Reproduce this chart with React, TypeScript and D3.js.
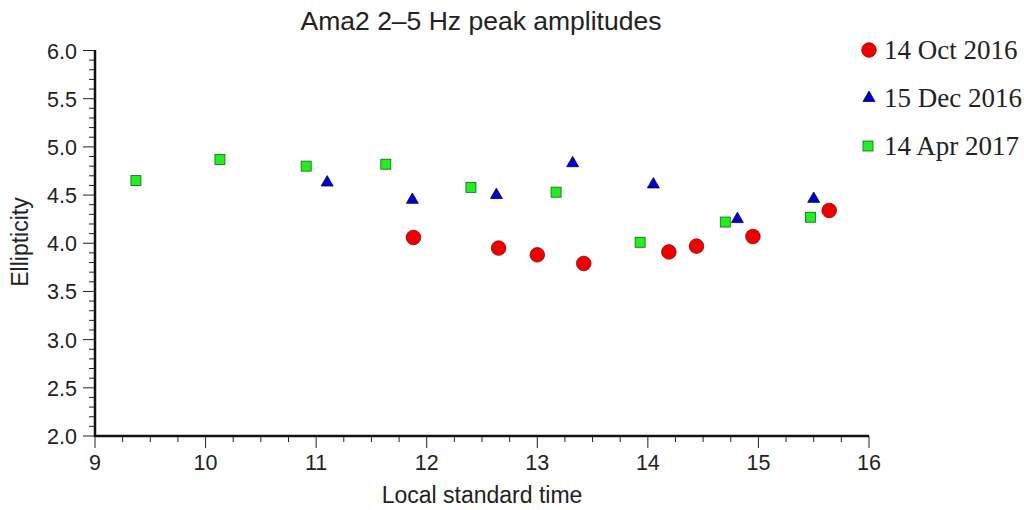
import React from "react";
import * as d3 from "d3";

const seriesNames = ["14 Oct 2016", "15 Dec 2016", "14 Apr 2017"];

const octX = [11.88, 12.65, 13.0, 13.42, 14.19, 14.44, 14.95, 15.64];
const octY = [4.06, 3.95, 3.88, 3.79, 3.91, 3.97, 4.07, 4.34];

const decX = [11.1, 11.87, 12.63, 13.32, 14.05, 14.81, 15.5];
const decY = [4.63, 4.45, 4.50, 4.83, 4.61, 4.25, 4.46];

const aprX = [9.37, 10.13, 10.91, 11.63, 12.4, 13.17, 13.93, 14.7, 15.47];
const aprY = [4.65, 4.87, 4.8, 4.82, 4.58, 4.53, 4.01, 4.22, 4.27];

const xTicks = [9, 10, 11, 12, 13, 14, 15, 16];
const yTicks = [2.0, 2.5, 3.0, 3.5, 4.0, 4.5, 5.0, 5.5, 6.0];

export default function App() {
  const W = 1024, H = 510;
  const x = d3.scaleLinear().domain([9, 16]).range([95, 869]);
  const y = d3.scaleLinear().domain([2, 6]).range([436, 50.5]);
  const sans = "'Liberation Sans', Arial, sans-serif";
  const serif = "'Liberation Serif', 'Times New Roman', serif";

  const xMinor = d3.range(9, 16.001, 0.25).filter((v) => Math.abs(v - Math.round(v)) > 1e-6);
  const yMinor = d3.range(2, 6.001, 0.1).filter((v) => Math.abs(v * 2 - Math.round(v * 2)) > 1e-6);

  const tri = d3.symbol().type(d3.symbolTriangle).size(62)();

  const circle = (cx: number, cy: number, k: string) => (
    <circle key={k} cx={cx} cy={cy} r={7.3} fill="#ee0000" stroke="#990000" strokeWidth={0.8} />
  );
  const triangle = (cx: number, cy: number, k: string) => (
    <path key={k} d={tri as string} transform={`translate(${cx},${cy})`} fill="#0000cc" stroke="#000066" strokeWidth={0.8} />
  );
  const square = (cx: number, cy: number, k: string) => (
    <rect key={k} x={cx - 5} y={cy - 5} width={10} height={10} fill="#22ee22" stroke="#116611" strokeWidth={0.8} />
  );

  return (
    <svg width={W} height={H} style={{ position: "absolute", left: 0, top: 0, background: "#fff" }}>
      <rect x={0} y={0} width={W} height={H} fill="#fff" />
      <text x={481} y={30} textAnchor="middle" fontFamily={sans} fontSize={26.5} fill="#222">
        Ama2 2–5 Hz peak amplitudes
      </text>

      {/* y axis */}
      {yMinor.map((v, i) => (
        <line key={"ym" + i} x1={89} x2={95} y1={y(v)} y2={y(v)} stroke="#222" strokeWidth={1} />
      ))}
      {yTicks.map((v, i) => (
        <g key={"yt" + i}>
          <line x1={83} x2={95} y1={y(v)} y2={y(v)} stroke="#222" strokeWidth={1} />
          <text x={77} y={y(v) + 8} textAnchor="end" fontFamily={sans} fontSize={21.5} fill="#222">
            {v.toFixed(1)}
          </text>
        </g>
      ))}

      {/* x axis */}
      {xMinor.map((v, i) => (
        <line key={"xm" + i} x1={x(v)} x2={x(v)} y1={436} y2={442} stroke="#222" strokeWidth={1} />
      ))}
      {xTicks.map((v, i) => (
        <g key={"xt" + i}>
          <line x1={x(v)} x2={x(v)} y1={436} y2={448} stroke="#222" strokeWidth={1} />
          <text x={x(v)} y={470} textAnchor="middle" fontFamily={sans} fontSize={21.5} fill="#222">
            {v}
          </text>
        </g>
      ))}
      <line x1={95} x2={95} y1={50} y2={437} stroke="#111" strokeWidth={2.5} />
      <line x1={94} x2={869} y1={436} y2={436} stroke="#111" strokeWidth={2.5} />

      <text x={482} y={503} textAnchor="middle" fontFamily={sans} fontSize={23} fill="#222">
        Local standard time
      </text>
      <text transform="translate(28,242) rotate(-90)" textAnchor="middle" fontFamily={sans} fontSize={23} fill="#222">
        Ellipticity
      </text>

      {/* data */}
      {aprX.map((v, i) => square(x(v), y(aprY[i]), "a" + i))}
      {decX.map((v, i) => triangle(x(v), y(decY[i]), "d" + i))}
      {octX.map((v, i) => circle(x(v), y(octY[i]), "o" + i))}

      {/* legend */}
      {circle(869, 50, "lo")}
      <text x={884} y={59} fontFamily={serif} fontSize={27} fill="#222">{seriesNames[0]}</text>
      {triangle(869, 98, "ld")}
      <text x={884} y={107} fontFamily={serif} fontSize={27} fill="#222">{seriesNames[1]}</text>
      {square(868, 146, "la")}
      <text x={884} y={155} fontFamily={serif} fontSize={27} fill="#222">{seriesNames[2]}</text>
    </svg>
  );
}
